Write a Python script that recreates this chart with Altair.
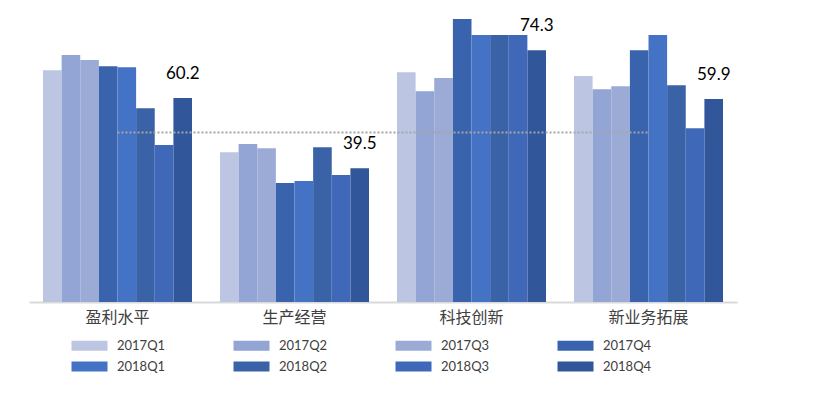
import altair as alt
import pandas as pd

categories = ["盈利水平", "生产经营", "科技创新", "新业务拓展"]
series = ["2017Q1", "2017Q2", "2017Q3", "2017Q4", "2018Q1", "2018Q2", "2018Q3", "2018Q4"]
values = {
    "盈利水平": [68.4, 72.9, 71.4, 69.6, 69.3, 57.2, 46.3, 60.2],
    "生产经营": [44.2, 46.6, 45.4, 35.1, 35.7, 45.7, 37.5, 39.5],
    "科技创新": [67.8, 62.2, 66.1, 83.5, 78.8, 78.8, 78.8, 74.3],
    "新业务拓展": [66.7, 62.8, 63.7, 74.3, 78.8, 64.0, 51.3, 59.9],
}
average = 50.0
colors = ["#BCC5E2", "#93A5D4", "#9BABD6", "#3A63AD", "#4472C4", "#3A62A7", "#3F69B8", "#31579A"]

rows = []
for c in categories:
    for s, v in zip(series, values[c]):
        rows.append({"category": c, "series": s, "value": v})
df = pd.DataFrame(rows)
avg_df = pd.DataFrame({"category": categories, "avg": [average] * len(categories)})

x_enc = alt.X(
    "category:N",
    sort=categories,
    scale=alt.Scale(paddingInner=0.158, paddingOuter=0.079),
    axis=alt.Axis(
        title=None, ticks=False, labelAngle=0, labelFontSize=16,
        labelFont="Noto Sans CJK SC", labelColor="#404040", labelPadding=7,
        domainColor="#D9D9D9", domainWidth=2, grid=False,
    ),
)
y_scale = alt.Scale(domain=[0, 85])
xo = alt.XOffset("series:N", sort=series, scale=alt.Scale(domain=series, paddingInner=0, paddingOuter=0))

bars = alt.Chart(df).mark_bar(size=18.6).encode(
    x=x_enc,
    xOffset=xo,
    y=alt.Y("value:Q", scale=y_scale, axis=None),
    color=alt.Color(
        "series:N", sort=series,
        scale=alt.Scale(domain=series, range=colors),
        legend=alt.Legend(
            title=None, orient="none", legendX=54, legendY=325, direction="horizontal",
            columns=4, symbolType="M-3.6,-1L3.6,-1L3.6,1L-3.6,1Z", symbolSize=100,
            symbolStrokeWidth=0, symbolOpacity=1, labelFontSize=13, labelFont="Lato",
            labelColor="#404040", columnPadding=67, rowPadding=7, labelOffset=21,
        ),
    ),
)

labels = alt.Chart(df).transform_filter(alt.datum.series == "2018Q4").mark_text(
    baseline="bottom", dy=-15, fontSize=17, font="Lato", color="#000000"
).encode(
    x=alt.X("category:N", sort=categories),
    xOffset=xo,
    y=alt.Y("value:Q", scale=y_scale),
    text=alt.Text("value:Q", format=".1f"),
)

avg_line = alt.Chart(avg_df).mark_line(
    color="#A6A6A6", strokeWidth=2, strokeDash=[2, 2]
).encode(
    x=alt.X("category:N", sort=categories),
    y=alt.Y("avg:Q", scale=y_scale),
)

chart = alt.layer(bars, avg_line, labels).properties(
    width=708, height=288,
    autosize=alt.AutoSizeParams(type="none"),
    padding={"left": 21, "top": 6, "right": 20, "bottom": 85},
).configure_view(stroke=None).configure_axis(grid=False)

chart.save("out.html", embed_options={"renderer": "svg", "actions": False})
